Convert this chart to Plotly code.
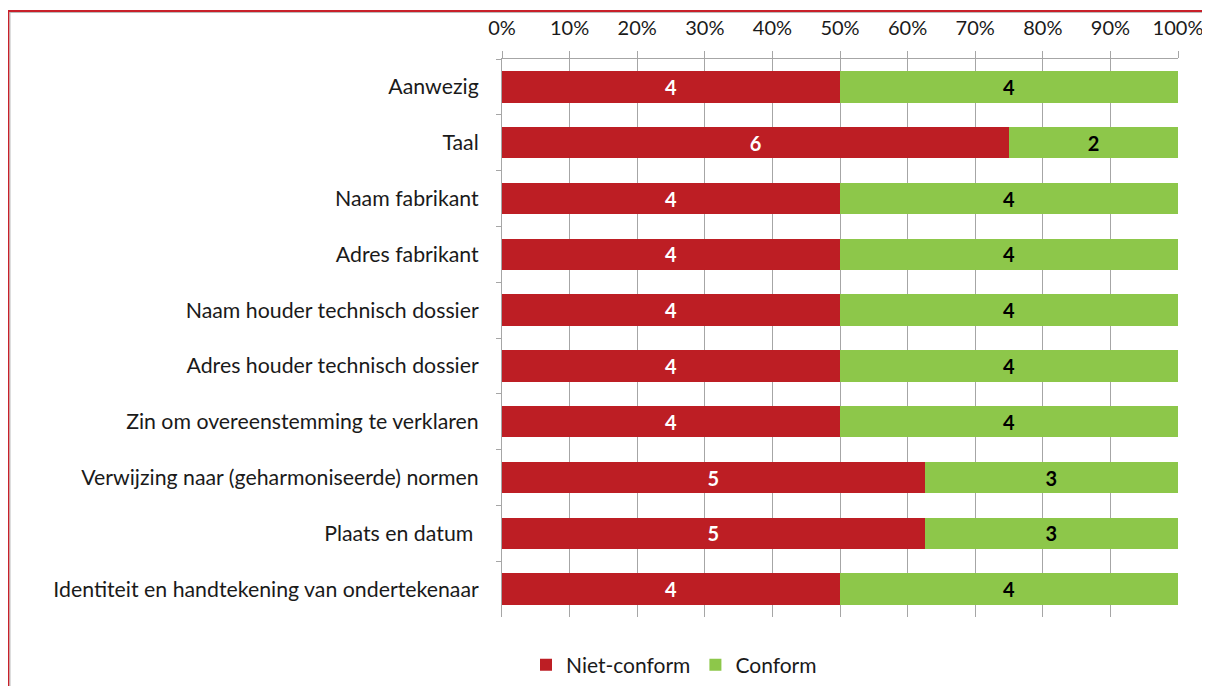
import plotly.graph_objects as go

categories = [
    "Aanwezig",
    "Taal",
    "Naam fabrikant",
    "Adres fabrikant",
    "Naam houder technisch dossier",
    "Adres houder technisch dossier",
    "Zin om overeenstemming te verklaren",
    "Verwijzing naar (geharmoniseerde) normen",
    "Plaats en datum ",
    "Identiteit en handtekening van ondertekenaar",
]
niet_conform = [4, 6, 4, 4, 4, 4, 4, 5, 5, 4]
conform = [4, 2, 4, 4, 4, 4, 4, 3, 3, 4]
tick_vals = [0, 10, 20, 30, 40, 50, 60, 70, 80, 90, 100]
tick_text = [f"{v}%" for v in tick_vals]

RED = "#BD1E24"
GREEN = "#8DC74A"
FONT = "Lato"
TXT = "#1a1a1a"

W, H = 1202, 678
L, R, T, B = 494, 32, 51, 69
PW = W - L - R
PH = H - T - B


def px_x(x):
    return (x - L) / PW


def px_y(y):
    return (H - B - y) / PH


fig = go.Figure()
fig.add_trace(go.Bar(
    y=categories, x=niet_conform, name="Niet-conform", orientation="h",
    marker=dict(color=RED, line=dict(width=0)),
    text=[str(v) for v in niet_conform], textposition="inside",
    insidetextanchor="middle", textangle=0,
    textfont=dict(family=FONT, size=20, color="white", weight="bold"),
))
fig.add_trace(go.Bar(
    y=categories, x=conform, name="Conform", orientation="h",
    marker=dict(color=GREEN, line=dict(width=0)),
    text=[str(v) for v in conform], textposition="inside",
    insidetextanchor="middle", textangle=0,
    textfont=dict(family=FONT, size=20, color="black", weight="bold"),
))

fig.update_layout(
    template="none",
    barmode="stack",
    barnorm="percent",
    bargap=0.44,
    width=W, height=H,
    margin=dict(l=L, r=R, t=T, b=B, autoexpand=False),
    paper_bgcolor="white",
    plot_bgcolor="white",
    font=dict(family=FONT, size=20, color=TXT),
    uniformtext=dict(mode="show", minsize=10),
    showlegend=True,
    legend=dict(
        orientation="h", xref="container", yref="container",
        x=518 / W, xanchor="left", y=1 - 657 / H, yanchor="middle",
        font=dict(family=FONT, size=21, color=TXT),
        traceorder="normal", bgcolor="rgba(0,0,0,0)",
    ),
    xaxis=dict(
        side="top", range=[0, 100], tickvals=tick_vals, ticktext=tick_text,
        showgrid=True, gridcolor="#A6A6A6", gridwidth=1,
        showline=True, linecolor="#A6A6A6", linewidth=1,
        ticks="outside", ticklen=7, tickcolor="#A6A6A6",
        ticklabelstandoff=8, automargin=False,
        tickfont=dict(family=FONT, size=20, color=TXT),
        zeroline=False, fixedrange=True,
    ),
    yaxis=dict(
        autorange="reversed", type="category",
        showline=True, linecolor="#A6A6A6", linewidth=1,
        ticks="outside", ticklen=5, tickcolor="#A6A6A6",
        tickson="boundaries", showgrid=False, zeroline=False,
        ticklabelstandoff=18, automargin=False,
        tickfont=dict(family=FONT, size=21.3, color=TXT),
    ),
    shapes=[
        dict(type="line", xref="paper", yref="paper",
             x0=px_x(0), x1=px_x(W + 10), y0=px_y(3), y1=px_y(3),
             line=dict(color="#C8202A", width=2)),
        dict(type="line", xref="paper", yref="paper",
             x0=px_x(0), x1=px_x(0), y0=px_y(3), y1=px_y(H + 10),
             line=dict(color="#C8202A", width=3)),
        dict(type="line", xref="paper", yref="paper",
             x0=px_x(2), x1=px_x(W + 10), y0=px_y(4.5), y1=px_y(4.5),
             line=dict(color="#BBBBBB", width=1)),
        dict(type="line", xref="paper", yref="paper",
             x0=px_x(2), x1=px_x(2), y0=px_y(4.5), y1=px_y(H + 10),
             line=dict(color="#BBBBBB", width=1)),
    ],
)

fig.write_html("out.html")
